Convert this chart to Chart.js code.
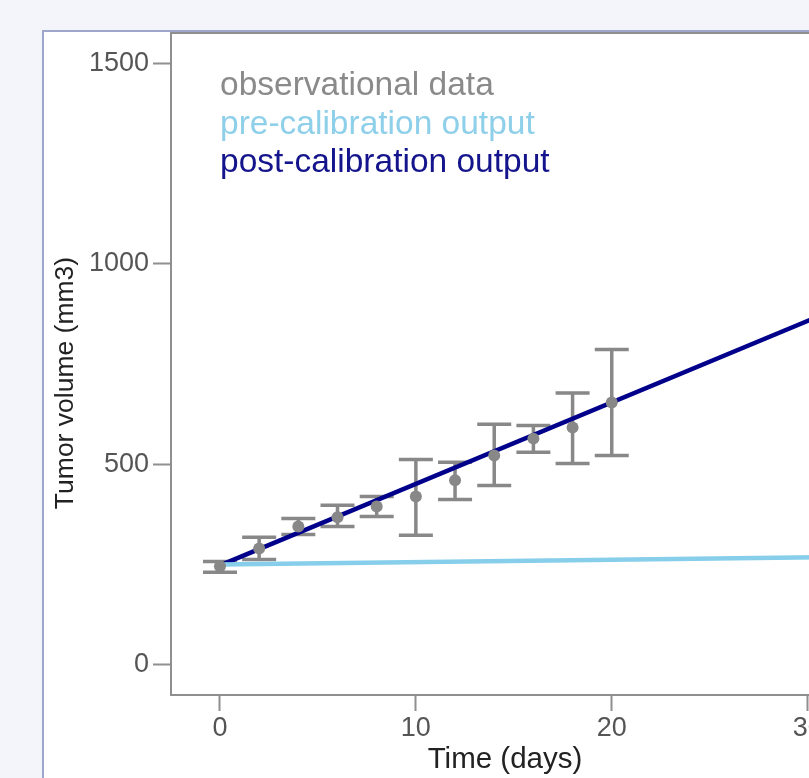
<!DOCTYPE html>
<html>
<head>
<meta charset="utf-8">
<script src="https://cdn.jsdelivr.net/npm/chart.js@4/dist/chart.umd.min.js"></script>
<style>
  html, body { margin: 0; padding: 0; overflow: hidden; background: #f4f5fa; }
  body { width: 809px; height: 778px; position: relative; }
  #panel { position: absolute; left: 42px; top: 30px; width: 900px; height: 900px;
           background: #fff; border-left: 2px solid #9ea7cb; border-top: 2px solid #9ea7cb; }
  #chart { position: absolute; left: 0; top: 0; }
</style>
</head>
<body>
<div id="panel"></div>
<canvas id="chart" width="900" height="778"></canvas>
<script>
// Tumor growth: observations vs. model output before/after calibration

const obsDays = [0, 2, 4, 6, 8, 10, 12, 14, 16, 18, 20];
const obsMean = [246, 290, 345, 368, 395, 420, 460, 522, 564, 592, 654];
const obsLow  = [231, 263, 325, 345, 370, 323, 412, 447, 530, 502, 522];
const obsHigh = [258, 318, 365, 398, 420, 512, 505, 600, 597, 678, 786];

const modelDays = [0, 32];
const preCalibration  = [250, 269];
const postCalibration = [248, 898];

const xTicks = [0, 10, 20, 30];
const yTicks = [0, 500, 1000, 1500];

const FONT = "'Liberation Sans', Arial, Helvetica, sans-serif";
const AXIS_GREY = '#8f8f8f';
const OBS_GREY = '#888888';
const PRE_BLUE = '#87ceeb';
const POST_BLUE = '#00008b';

// error bars with caps, drawn under the lines
const errorBars = {
  id: 'errorBars',
  beforeDatasetsDraw(chart) {
    const { ctx, scales: { x, y } } = chart;
    ctx.save();
    ctx.strokeStyle = OBS_GREY;
    ctx.lineWidth = 3.5;
    obsDays.forEach((d, i) => {
      const px = x.getPixelForValue(d);
      const lo = y.getPixelForValue(obsLow[i]);
      const hi = y.getPixelForValue(obsHigh[i]);
      ctx.beginPath();
      ctx.moveTo(px, lo); ctx.lineTo(px, hi);
      ctx.moveTo(px - 17, lo); ctx.lineTo(px + 17, lo);
      ctx.moveTo(px - 17, hi); ctx.lineTo(px + 17, hi);
      ctx.stroke();
    });
    ctx.restore();
  }
};

// text-only legend in the top left corner + rotated y title
const textLegend = {
  id: 'textLegend',
  afterDraw(chart) {
    const { ctx, chartArea } = chart;
    ctx.save();
    ctx.font = '33.5px ' + FONT;
    ctx.textAlign = 'left';
    ctx.textBaseline = 'alphabetic';
    chart.data.datasets.forEach((ds, i) => {
      ctx.fillStyle = ds.legendColor;
      ctx.fillText(ds.label, chartArea.left + 49, chartArea.top + 62 + i * 38.5);
    });
    ctx.font = '26.5px ' + FONT;
    ctx.fillStyle = '#222';
    ctx.textAlign = 'center';
    ctx.textBaseline = 'middle';
    ctx.translate(chartArea.left - 105, (chartArea.top + chartArea.bottom) / 2 + 19);
    ctx.rotate(-Math.PI / 2);
    ctx.fillText('Tumor volume (mm3)', 0, 0);
    ctx.restore();
  }
};

new Chart(document.getElementById('chart'), {
  type: 'line',
  data: {
    datasets: [{
      label: 'observational data',
      legendColor: '#8a8a8a',
      data: obsDays.map((d, i) => ({ x: d, y: obsMean[i] })),
      showLine: false,
      pointRadius: 6,
      pointBackgroundColor: OBS_GREY,
      pointBorderWidth: 0
    }, {
      label: 'pre-calibration output',
      legendColor: '#8ecfea',
      data: modelDays.map((d, i) => ({ x: d, y: preCalibration[i] })),
      borderColor: PRE_BLUE,
      borderWidth: 4.5,
      pointRadius: 0
    }, {
      label: 'post-calibration output',
      legendColor: '#14148c',
      data: modelDays.map((d, i) => ({ x: d, y: postCalibration[i] })),
      borderColor: POST_BLUE,
      borderWidth: 4.5,
      pointRadius: 0
    }]
  },
  options: {
    responsive: false,
    devicePixelRatio: 1,
    animation: false,
    layout: { padding: { left: 0, top: 33, right: 61, bottom: 0 } },
    plugins: {
      legend: { display: false },
      tooltip: { enabled: false }
    },
    scales: {
      x: {
        type: 'linear',
        min: -2.5,
        max: 31.6,
        afterFit: s => { s.height = 83; },
        afterBuildTicks: s => { s.ticks = xTicks.map(v => ({ value: v })); },
        grid: { drawOnChartArea: false, tickLength: 16, tickWidth: 2, tickColor: AXIS_GREY },
        border: { color: AXIS_GREY, width: 2 },
        ticks: { font: { size: 27, family: FONT }, color: '#555', padding: 1, maxRotation: 0,
                 callback: v => String(v) },
        title: {
          display: true,
          text: 'Time (days)',
          font: { size: 29.5, family: FONT },
          color: '#222',
          padding: { top: 0, bottom: 0 }
        }
      },
      xTop: {
        type: 'linear',
        position: 'top',
        min: -2.5,
        max: 31.6,
        afterFit: s => { s.height = 0; },
        grid: { drawOnChartArea: false, drawTicks: false },
        border: { color: AXIS_GREY, width: 2 },
        ticks: { display: false }
      },
      y: {
        min: -75,
        max: 1575,
        afterFit: s => { s.width = 171; },
        afterBuildTicks: s => { s.ticks = yTicks.map(v => ({ value: v })); },
        grid: { drawOnChartArea: false, tickLength: 18, tickWidth: 2, tickColor: AXIS_GREY },
        border: { color: AXIS_GREY, width: 2 },
        ticks: { font: { size: 27, family: FONT }, color: '#555', padding: 4,
                 callback: v => String(v) }
      }
    }
  },
  plugins: [errorBars, textLegend]
});
</script>
</body>
</html>
